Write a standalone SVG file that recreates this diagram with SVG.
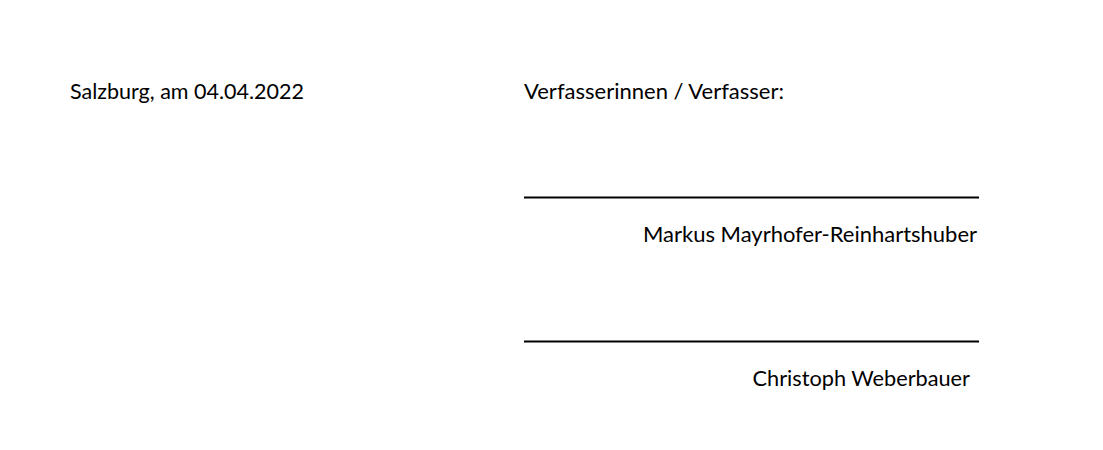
<svg xmlns="http://www.w3.org/2000/svg" width="1103" height="450" viewBox="0 0 1103 450">
<style>
text{font-family:Lato,"Open Sans","Liberation Sans",sans-serif;font-size:21px;fill:#000}
.sig{stroke:#000;stroke-width:2.2;fill:none}
</style>
<rect width="1103" height="450" fill="#fff"/>
<g id="place-date"><text x="70" y="99" textLength="234" lengthAdjust="spacingAndGlyphs">Salzburg, am 04.04.2022</text></g>
<g id="authors-label"><text x="524" y="99" textLength="260" lengthAdjust="spacingAndGlyphs">Verfasserinnen / Verfasser:</text></g>
<g id="signature-lines">
<line class="sig" x1="524" y1="197.5" x2="979" y2="197.5"/>
<line class="sig" x1="524" y1="341.5" x2="979" y2="341.5"/>
</g>
<g id="author1"><text x="643" y="242" textLength="334" lengthAdjust="spacingAndGlyphs">Markus Mayrhofer-Reinhartshuber</text></g>
<g id="author2"><text x="752.5" y="386" textLength="217.5" lengthAdjust="spacingAndGlyphs">Christoph Weberbauer</text></g>
</svg>
